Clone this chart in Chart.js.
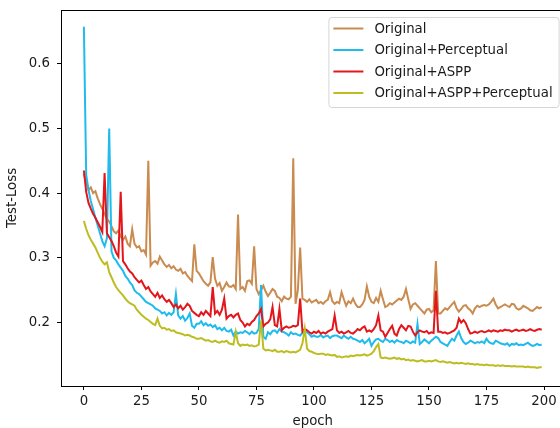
<!DOCTYPE html>
<html>
<head>
<meta charset="utf-8">
<script src="https://cdn.jsdelivr.net/npm/chart.js@4/dist/chart.umd.min.js"></script>
<style>
  html, body { margin: 0; padding: 0; background: #fff; overflow: hidden; }
  #wrap { width: 566px; height: 432px; }
</style>
</head>
<body>
<div id="wrap"><canvas id="chart" width="566" height="432"></canvas></div>
<script>
const seriesNames = ['Original', 'Original+Perceptual', 'Original+ASPP', 'Original+ASPP+Perceptual']
const seriesColors = ['#c98b4f', '#1fbbec', '#e3161c', '#bdbd22']
const xTicks = [0, 25, 50, 75, 100, 125, 150, 175, 200]
const yTicks = [0.2, 0.3, 0.4, 0.5, 0.6]
const epochs = Array.from({length: 200}, (_, i) => i)

const original = [
    0.430, 0.416, 0.405, 0.409, 0.400, 0.403, 0.392, 0.383, 0.376, 0.368,
    0.360, 0.356, 0.349, 0.341, 0.338, 0.342, 0.333, 0.328, 0.333, 0.322,
    0.318, 0.344, 0.322, 0.316, 0.318, 0.310, 0.312, 0.305, 0.450, 0.288,
    0.293, 0.295, 0.291, 0.302, 0.296, 0.290, 0.286, 0.289, 0.284, 0.287,
    0.282, 0.280, 0.283, 0.276, 0.278, 0.272, 0.268, 0.264, 0.321, 0.280,
    0.276, 0.270, 0.264, 0.260, 0.257, 0.262, 0.301, 0.268, 0.257, 0.261,
    0.249, 0.255, 0.262, 0.256, 0.255, 0.258, 0.252, 0.367, 0.252, 0.255,
    0.249, 0.264, 0.265, 0.260, 0.318, 0.252, 0.244, 0.250, 0.257, 0.248,
    0.241, 0.246, 0.252, 0.249, 0.240, 0.238, 0.233, 0.240, 0.237, 0.236,
    0.240, 0.454, 0.229, 0.250, 0.316, 0.237, 0.235, 0.232, 0.236, 0.231,
    0.233, 0.235, 0.230, 0.232, 0.229, 0.233, 0.235, 0.247, 0.233, 0.229,
    0.232, 0.230, 0.247, 0.236, 0.226, 0.233, 0.230, 0.237, 0.229, 0.224,
    0.224, 0.228, 0.235, 0.256, 0.240, 0.232, 0.230, 0.238, 0.232, 0.249,
    0.236, 0.224, 0.226, 0.230, 0.228, 0.231, 0.234, 0.237, 0.235, 0.240,
    0.252, 0.236, 0.221, 0.228, 0.230, 0.226, 0.222, 0.218, 0.214, 0.220,
    0.221, 0.216, 0.219, 0.295, 0.214, 0.214, 0.218, 0.222, 0.220, 0.224,
    0.228, 0.232, 0.222, 0.217, 0.221, 0.226, 0.227, 0.222, 0.219, 0.214,
    0.222, 0.226, 0.224, 0.226, 0.227, 0.226, 0.228, 0.232, 0.237, 0.228,
    0.222, 0.224, 0.226, 0.228, 0.226, 0.224, 0.229, 0.228, 0.222, 0.220,
    0.222, 0.226, 0.224, 0.222, 0.219, 0.218, 0.221, 0.224, 0.222, 0.224
]

const perceptual = [
    0.657, 0.428, 0.405, 0.388, 0.375, 0.362, 0.350, 0.338, 0.326, 0.318,
    0.330, 0.500, 0.310, 0.300, 0.296, 0.290, 0.285, 0.280, 0.272, 0.268,
    0.262, 0.258, 0.250, 0.246, 0.244, 0.240, 0.236, 0.232, 0.230, 0.228,
    0.226, 0.222, 0.220, 0.218, 0.214, 0.216, 0.211, 0.215, 0.212, 0.216,
    0.244, 0.211, 0.206, 0.210, 0.203, 0.207, 0.214, 0.195, 0.192, 0.198,
    0.198, 0.202, 0.196, 0.199, 0.195, 0.197, 0.193, 0.196, 0.190, 0.192,
    0.188, 0.192, 0.187, 0.186, 0.189, 0.180, 0.186, 0.183, 0.185, 0.184,
    0.187, 0.185, 0.182, 0.186, 0.183, 0.184, 0.190, 0.258, 0.178, 0.175,
    0.185, 0.182, 0.187, 0.188, 0.184, 0.190, 0.186, 0.185, 0.183, 0.180,
    0.185, 0.182, 0.183, 0.181, 0.180, 0.184, 0.186, 0.185, 0.182, 0.178,
    0.180, 0.178, 0.178, 0.181, 0.177, 0.179, 0.180, 0.176, 0.179, 0.180,
    0.180, 0.178, 0.176, 0.180, 0.177, 0.175, 0.178, 0.175, 0.174, 0.172,
    0.170, 0.173, 0.168, 0.171, 0.175, 0.164, 0.170, 0.174, 0.175, 0.172,
    0.170, 0.175, 0.173, 0.170, 0.172, 0.169, 0.173, 0.171, 0.170, 0.168,
    0.172, 0.170, 0.168, 0.171, 0.169, 0.198, 0.167, 0.170, 0.174, 0.171,
    0.168, 0.172, 0.175, 0.178, 0.176, 0.170, 0.168, 0.166, 0.164, 0.170,
    0.175, 0.172, 0.180, 0.186, 0.176, 0.170, 0.167, 0.169, 0.172, 0.170,
    0.168, 0.170, 0.169, 0.171, 0.168, 0.175, 0.170, 0.168, 0.167, 0.172,
    0.170, 0.168, 0.167, 0.166, 0.168, 0.164, 0.167, 0.166, 0.168, 0.165,
    0.166, 0.165, 0.167, 0.169, 0.166, 0.164, 0.165, 0.167, 0.165, 0.166
]

const aspp = [
    0.435, 0.402, 0.385, 0.376, 0.368, 0.362, 0.355, 0.348, 0.340, 0.431,
    0.338, 0.332, 0.326, 0.318, 0.308, 0.302, 0.402, 0.295, 0.290, 0.284,
    0.279, 0.276, 0.270, 0.266, 0.262, 0.265, 0.258, 0.252, 0.255, 0.248,
    0.244, 0.240, 0.246, 0.238, 0.242, 0.236, 0.232, 0.235, 0.230, 0.224,
    0.228, 0.222, 0.226, 0.220, 0.224, 0.229, 0.226, 0.218, 0.215, 0.212,
    0.210, 0.216, 0.212, 0.218, 0.214, 0.210, 0.255, 0.214, 0.218, 0.212,
    0.220, 0.237, 0.206, 0.210, 0.212, 0.208, 0.212, 0.214, 0.204, 0.200,
    0.194, 0.198, 0.196, 0.201, 0.204, 0.210, 0.214, 0.221, 0.194, 0.198,
    0.200, 0.205, 0.224, 0.196, 0.194, 0.221, 0.188, 0.192, 0.194, 0.192,
    0.193, 0.195, 0.194, 0.196, 0.237, 0.186, 0.190, 0.188, 0.185, 0.183,
    0.186, 0.184, 0.187, 0.183, 0.185, 0.183, 0.186, 0.188, 0.190, 0.211,
    0.188, 0.184, 0.186, 0.183, 0.185, 0.187, 0.184, 0.183, 0.186, 0.190,
    0.188, 0.192, 0.194, 0.186, 0.188, 0.186, 0.190, 0.196, 0.211, 0.188,
    0.186, 0.178, 0.184, 0.190, 0.195, 0.183, 0.180, 0.190, 0.196, 0.192,
    0.188, 0.195, 0.194, 0.186, 0.180, 0.185, 0.188, 0.186, 0.185, 0.187,
    0.183, 0.185, 0.184, 0.249, 0.186, 0.186, 0.184, 0.185, 0.183, 0.184,
    0.186, 0.188, 0.192, 0.206, 0.200, 0.204, 0.199, 0.190, 0.183, 0.184,
    0.186, 0.184, 0.186, 0.187, 0.185, 0.186, 0.188, 0.186, 0.188, 0.187,
    0.186, 0.188, 0.187, 0.189, 0.188, 0.188, 0.186, 0.188, 0.189, 0.187,
    0.188, 0.189, 0.187, 0.188, 0.190, 0.188, 0.187, 0.189, 0.190, 0.189
]

const asppPerceptual = [
    0.357, 0.345, 0.335, 0.328, 0.322, 0.316, 0.308, 0.300, 0.294, 0.290,
    0.293, 0.278, 0.270, 0.262, 0.255, 0.250, 0.246, 0.242, 0.237, 0.233,
    0.230, 0.228, 0.226, 0.220, 0.216, 0.212, 0.209, 0.206, 0.204, 0.201,
    0.198, 0.196, 0.206, 0.195, 0.191, 0.192, 0.189, 0.190, 0.187, 0.188,
    0.185, 0.184, 0.183, 0.182, 0.180, 0.181, 0.180, 0.178, 0.177, 0.175,
    0.175, 0.176, 0.174, 0.172, 0.173, 0.171, 0.170, 0.172, 0.170, 0.169,
    0.171, 0.170, 0.172, 0.168, 0.167, 0.166, 0.186, 0.168, 0.164, 0.166,
    0.165, 0.166, 0.164, 0.165, 0.163, 0.164, 0.166, 0.203, 0.160, 0.157,
    0.158, 0.157, 0.156, 0.158, 0.155, 0.155, 0.156, 0.154, 0.156, 0.155,
    0.154, 0.155, 0.154, 0.156, 0.158, 0.168, 0.191, 0.160, 0.156, 0.155,
    0.153, 0.152, 0.151, 0.152, 0.152, 0.150, 0.151, 0.150, 0.149, 0.150,
    0.147, 0.148, 0.146, 0.147, 0.148, 0.147, 0.149, 0.148, 0.149, 0.150,
    0.149, 0.150, 0.151, 0.149, 0.150, 0.152, 0.156, 0.162, 0.167, 0.146,
    0.145, 0.146, 0.145, 0.144, 0.145, 0.146, 0.144, 0.145, 0.143, 0.144,
    0.142, 0.143, 0.141, 0.142, 0.141, 0.140, 0.141, 0.142, 0.140, 0.140,
    0.141, 0.140, 0.141, 0.142, 0.140, 0.139, 0.140, 0.139, 0.138, 0.139,
    0.138, 0.137, 0.138, 0.137, 0.138, 0.137, 0.136, 0.137, 0.136, 0.136,
    0.135, 0.136, 0.135, 0.135, 0.134, 0.135, 0.134, 0.134, 0.134, 0.133,
    0.134, 0.133, 0.134, 0.133, 0.133, 0.133, 0.132, 0.133, 0.132, 0.132,
    0.132, 0.132, 0.131, 0.132, 0.131, 0.131, 0.131, 0.130, 0.131, 0.131
]

const allSeries = [original, perceptual, aspp, asppPerceptual]
const FONT = 'DejaVu Sans'

// frame on all four sides, like matplotlib spines
const framePlugin = {
    id: 'frame',
    afterDraw(chart) {
        const {ctx, chartArea: a} = chart
        ctx.save()
        ctx.strokeStyle = '#000'
        ctx.lineWidth = 1
        ctx.strokeRect(Math.round(a.left) + 0.5, Math.round(a.top) + 0.5,
            Math.round(a.right - a.left), Math.round(a.bottom - a.top))
        ctx.restore()
    }
}

// legend box in the upper right corner of the plot
const legendPlugin = {
    id: 'boxLegend',
    afterDraw(chart) {
        const {ctx, chartArea: a} = chart
        ctx.save()
        ctx.font = '13.3px "' + FONT + '"'
        let maxW = 0
        chart.data.datasets.forEach(ds => { maxW = Math.max(maxW, ctx.measureText(ds.label).width) })
        const rowH = 21.5
        const w = 5 + 30 + 11 + maxW + 6
        const h = rowH * chart.data.datasets.length + 4
        const x = a.right - 6 - w
        const y = a.top + 7
        ctx.beginPath()
        ctx.roundRect(x + 0.5, y + 0.5, w, h, 3)
        ctx.fillStyle = 'rgba(255,255,255,0.8)'
        ctx.fill()
        ctx.strokeStyle = '#d6d6d6'
        ctx.lineWidth = 1
        ctx.stroke()
        ctx.textBaseline = 'middle'
        chart.data.datasets.forEach((ds, i) => {
            const cy = y + 11.5 + i * rowH
            ctx.beginPath()
            ctx.moveTo(x + 5, cy)
            ctx.lineTo(x + 35, cy)
            ctx.strokeStyle = ds.borderColor
            ctx.lineWidth = 2
            ctx.stroke()
            ctx.fillStyle = '#1a1a1a'
            ctx.fillText(ds.label, x + 46, cy + 1)
        })
        ctx.restore()
    }
}

new Chart(document.getElementById('chart'), {
    type: 'line',
    data: {
        labels: epochs,
        datasets: allSeries.map((values, i) => ({
            label: seriesNames[i],
            data: values,
            borderColor: seriesColors[i],
            backgroundColor: seriesColors[i],
            borderWidth: 2,
            pointRadius: 0,
            tension: 0,
            fill: false,
            order: allSeries.length - i
        }))
    },
    options: {
        responsive: false,
        devicePixelRatio: 1,
        animation: false,
        layout: { padding: { left: 0, top: 10, right: 1.4, bottom: 0 } },
        plugins: {
            legend: { display: false },
            tooltip: { enabled: false }
        },
        scales: {
            x: {
                type: 'linear',
                min: -9.95,
                max: 208.95,
                afterBuildTicks: scale => { scale.ticks = xTicks.map(v => ({value: v})) },
                afterFit: scale => {
                    scale.height = 46
                    scale.paddingLeft = 0
                    scale.paddingRight = 0
                },
                grid: { drawOnChartArea: false, drawTicks: true, tickLength: 4, color: '#000' },
                border: { display: true, color: '#000' },
                ticks: { color: '#1a1a1a', font: { family: FONT, size: 13.3 }, padding: 4, maxRotation: 0 },
                title: { display: true, text: 'epoch', color: '#1a1a1a', font: { family: FONT, size: 13.3 }, padding: { top: 0, bottom: 2 } }
            },
            y: {
                min: 0.102,
                max: 0.683,
                afterBuildTicks: scale => { scale.ticks = yTicks.map(v => ({value: v})) },
                afterFit: scale => {
                    scale.width = 61
                    scale.paddingTop = 0
                    scale.paddingBottom = 0
                },
                grid: { drawOnChartArea: false, drawTicks: true, tickLength: 4, color: '#000' },
                border: { display: true, color: '#000' },
                ticks: { color: '#1a1a1a', font: { family: FONT, size: 13.3 }, padding: 7,
                    callback: v => v.toFixed(1) },
                title: { display: true, text: 'Test-Loss', color: '#1a1a1a', font: { family: FONT, size: 13.3 }, padding: { top: 5, bottom: 0 } }
            }
        }
    },
    plugins: [framePlugin, legendPlugin]
})
</script>
</body>
</html>
